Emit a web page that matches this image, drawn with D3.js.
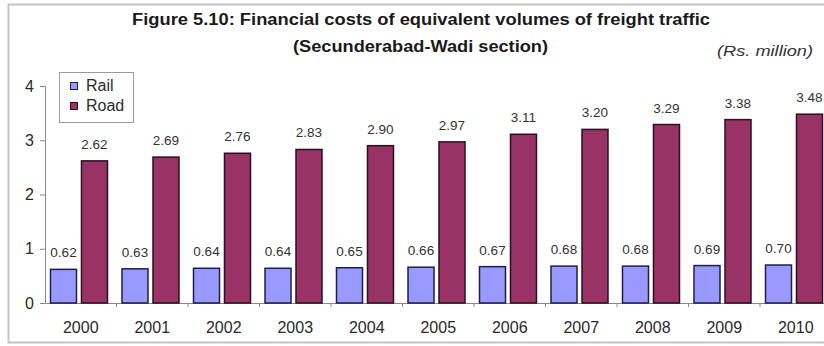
<!DOCTYPE html>
<html>
<head>
<meta charset="utf-8">
<script src="https://cdn.jsdelivr.net/npm/d3@7"></script>
<style>
  html, body { margin: 0; padding: 0; background: #fff; }
  svg { display: block; }
</style>
</head>
<body>
<svg id="chart" width="824" height="346"></svg>
<script>
// Financial costs of equivalent freight volumes, Secunderabad-Wadi section (Rs. million)
const years = ["2000", "2001", "2002", "2003", "2004", "2005", "2006", "2007", "2008", "2009", "2010"];
const railCost = [0.62, 0.63, 0.64, 0.64, 0.65, 0.66, 0.67, 0.68, 0.68, 0.69, 0.70];
const roadCost = [2.62, 2.69, 2.76, 2.83, 2.90, 2.97, 3.11, 3.20, 3.29, 3.38, 3.48];
const seriesNames = ["Rail", "Road"];
const yTicks = [0, 1, 2, 3, 4];

const seriesColors = { Rail: "#9999ff", Road: "#993366" };
const font = "'Liberation Sans', Arial, sans-serif";
const narrow = "'Liberation Sans Narrow', 'Arial Narrow', 'Liberation Sans', Arial, sans-serif";

const svg = d3.select("#chart");

// outer frame
svg.append("rect")
  .attr("x", 8.5).attr("y", 4.5)
  .attr("width", 840).attr("height", 338)
  .attr("fill", "#fff")
  .attr("stroke", "#c4c4c4").attr("stroke-width", 2);

// titles
svg.append("text")
  .attr("x", 132).attr("y", 25)
  .attr("textLength", 578).attr("lengthAdjust", "spacingAndGlyphs")
  .attr("font-family", narrow).attr("font-weight", "bold").attr("font-size", 16)
  .attr("fill", "#1a1a1a")
  .text("Figure 5.10: Financial costs of equivalent volumes of freight traffic");
svg.append("text")
  .attr("x", 293).attr("y", 52)
  .attr("textLength", 255).attr("lengthAdjust", "spacingAndGlyphs")
  .attr("font-family", narrow).attr("font-weight", "bold").attr("font-size", 16)
  .attr("fill", "#1a1a1a")
  .text("(Secunderabad-Wadi section)");
svg.append("text")
  .attr("x", 717).attr("y", 56)
  .attr("textLength", 96).attr("lengthAdjust", "spacingAndGlyphs")
  .attr("font-family", narrow).attr("font-style", "italic").attr("font-size", 15)
  .attr("fill", "#333")
  .text("(Rs. million)");

// scales
const x0 = d3.scaleBand().domain(years).range([45, 45 + 11 * 71.5]).paddingInner(0).paddingOuter(0);
const x1 = d3.scaleBand().domain(seriesNames)
  .range([x0.bandwidth() * 0.077, x0.bandwidth() * 0.874])
  .paddingInner(0.161).paddingOuter(0);
const y = d3.scaleLinear().domain([0, 4]).range([303, 86]);

// y axis
const yAxis = svg.append("g")
  .attr("transform", "translate(45,0)")
  .call(d3.axisLeft(y).tickValues(yTicks).tickFormat(d3.format("d")).tickSizeInner(5).tickSizeOuter(0).tickPadding(6));
yAxis.select(".domain").attr("stroke", "#8a8a8a");
yAxis.selectAll(".tick line").attr("stroke", "#8a8a8a");
yAxis.selectAll(".tick text")
  .attr("font-family", font).attr("font-size", 16).attr("fill", "#2a2a2a");

// x axis
const xAxis = svg.append("g")
  .attr("transform", "translate(0,303)")
  .call(d3.axisBottom(x0).tickSize(0).tickPadding(19));
xAxis.select(".domain").attr("stroke", "#8a8a8a");
xAxis.selectAll(".tick text")
  .attr("font-family", font).attr("font-size", 16).attr("fill", "#2a2a2a")
  .attr("dy", "0.71em");
// category boundary ticks
xAxis.selectAll(".bound")
  .data(years.slice(1))
  .join("line")
  .attr("class", "bound")
  .attr("x1", d => x0(d)).attr("x2", d => x0(d))
  .attr("y1", 0).attr("y2", 4)
  .attr("stroke", "#8a8a8a");

// bars
const rows = years.map((yr, i) => ({ year: yr, Rail: railCost[i], Road: roadCost[i] }));
const groups = svg.append("g").selectAll("g")
  .data(rows)
  .join("g")
  .attr("transform", d => `translate(${x0(d.year)},0)`);

groups.selectAll("rect")
  .data(d => seriesNames.map(k => ({ key: k, value: d[k] })))
  .join("rect")
  .attr("x", d => x1(d.key))
  .attr("y", d => y(d.value))
  .attr("width", x1.bandwidth())
  .attr("height", d => y(0) - y(d.value))
  .attr("fill", d => seriesColors[d.key])
  .attr("stroke", d => d.key === "Rail" ? "#1e1e4a" : "#2a1020")
  .attr("stroke-width", 1.5);

groups.selectAll("text.val")
  .data(d => seriesNames.map(k => ({ key: k, value: d[k] })))
  .join("text")
  .attr("class", "val")
  .attr("x", d => x1(d.key) + x1.bandwidth() / 2)
  .attr("y", d => y(d.value) - 12)
  .attr("text-anchor", "middle")
  .attr("font-family", font).attr("font-size", 13.5).attr("fill", "#333")
  .text(d => d3.format(".2f")(d.value));

// legend
const legend = svg.append("g");
legend.append("rect")
  .attr("x", 59.5).attr("y", 72.5).attr("width", 74).attr("height", 50)
  .attr("fill", "#fff").attr("stroke", "#9a9a9a");
seriesNames.forEach((name, i) => {
  legend.append("rect")
    .attr("x", 70.5).attr("y", 82.5 + i * 20).attr("width", 7).attr("height", 7)
    .attr("fill", seriesColors[name])
    .attr("stroke", name === "Rail" ? "#1e1e4a" : "#2a1020").attr("stroke-width", 1);
  legend.append("text")
    .attr("x", 86).attr("y", 91 + i * 20)
    .attr("font-family", font).attr("font-size", 16).attr("fill", "#2a2a2a")
    .text(name);
});
</script>
</body>
</html>
